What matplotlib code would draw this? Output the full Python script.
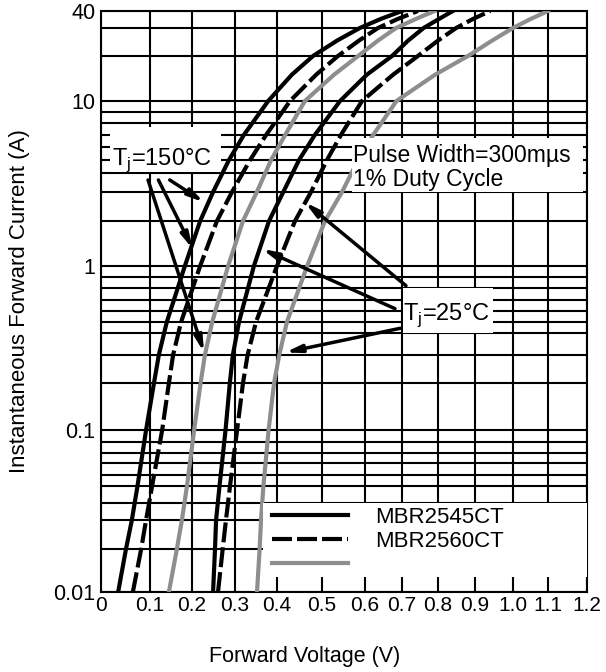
import numpy as np
import matplotlib
matplotlib.use("Agg")
import matplotlib.pyplot as plt
from matplotlib.patches import Rectangle
from matplotlib.ticker import FixedLocator, NullFormatter, NullLocator

plt.rcParams['font.family'] = ['Liberation Sans', 'DejaVu Sans']

# forward current (A) at which the voltage was read
current = [0.01, 0.02, 0.03, 0.05, 0.1, 0.2, 0.3, 0.5, 1, 2, 3, 5, 7, 10,
           15, 20, 25, 30, 35, 40]

# forward voltage (V)
vf_2545_150 = [0.035, 0.051, 0.063, 0.0745, 0.092, 0.1095, 0.121, 0.140, 0.183, 0.219,
               0.249, 0.286, 0.321, 0.379, 0.433, 0.48, 0.535, 0.588, 0.643, 0.70]
vf_2560_150 = [0.065, 0.082, 0.092, 0.105, 0.129, 0.145, 0.155, 0.174, 0.219, 0.258,
               0.293, 0.336, 0.374, 0.429, 0.487, 0.537, 0.586, 0.635, 0.689, 0.744]
vf_grey_150 = [0.145, 0.164, 0.176, 0.188, 0.205, 0.22, 0.23, 0.247, 0.284, 0.319,
               0.352, 0.386, 0.418, 0.462, 0.528, 0.584, 0.635, 0.684, 0.739, 0.79]
vf_2545_25 = [0.249, 0.2535, 0.256, 0.264, 0.278, 0.288, 0.295, 0.3095, 0.345, 0.381,
              0.414, 0.449, 0.484, 0.542, 0.605, 0.673, 0.717, 0.76, 0.803, 0.84]
vf_2560_25 = [0.2605, 0.2714, 0.279, 0.2884, 0.305, 0.319, 0.33, 0.35, 0.40, 0.44,
              0.4756, 0.5116, 0.544, 0.593, 0.676, 0.744, 0.80, 0.849, 0.895, 0.94]
vf_grey_25 = [0.3524, 0.3586, 0.362, 0.3676, 0.38, 0.393, 0.405, 0.422, 0.467, 0.507,
              0.5465, 0.584, 0.622, 0.685, 0.792, 0.881, 0.945, 1.0, 1.051, 1.1]

x_ticks = [0, 0.1, 0.2, 0.3, 0.4, 0.5, 0.6, 0.7, 0.8, 0.9, 1.0, 1.1, 1.2]
x_labels = ["0", "0.1", "0.2", "0.3", "0.4", "0.5", "0.6", "0.7", "0.8", "0.9", "1.0", "1.1", "1.2"]
y_ticks = [0.01, 0.1, 1, 10, 40]
y_labels = ["0.01", "0.1", "1", "10", "40"]
legend_labels = ["MBR2545CT", "MBR2560CT", ""]

# the scanned grid is not evenly spaced: pixel position of every grid line
x_pos = [0, 49, 91, 134, 176, 221, 264, 301, 337, 374, 412, 447, 486]
y_grid = [0.01, 0.02, 0.03, 0.04, 0.05, 0.06, 0.07, 0.08, 0.09,
          0.1, 0.2, 0.3, 0.4, 0.5, 0.6, 0.7, 0.8, 0.9,
          1, 2, 3, 4, 5, 6, 7, 8, 9, 10, 20, 30, 40]
y_pix = [592, 549, 520, 503, 486, 475, 463, 453, 442,
         430, 383, 355, 333, 322, 311, 300, 288, 277,
         266, 221, 192, 173, 160, 147, 135, 123, 112, 101, 56, 28, 11]
y_dec = np.log10(y_grid)
y_pos = 592 - np.array(y_pix, dtype=float)


def x_fwd(v):
    return np.interp(v, x_ticks, x_pos)


def x_inv(p):
    return np.interp(p, x_pos, x_ticks)


def y_fwd(v):
    v = np.maximum(np.asarray(v, dtype=float), 1e-6)
    return np.interp(np.log10(v), y_dec, y_pos)


def y_inv(p):
    return 10 ** np.interp(p, y_pos, y_dec)


fig = plt.figure(figsize=(6.06, 6.72), dpi=100)
ax = fig.add_axes([101 / 606, 80 / 672, 486 / 606, 581 / 672])
ax.set_xscale("function", functions=(x_fwd, x_inv))
ax.set_yscale("function", functions=(y_fwd, y_inv))
ax.set_xlim(0, 1.2)
ax.set_ylim(0.01, 40)

ax.set_xticks(x_ticks, x_labels, fontsize=15)
ax.xaxis.set_minor_locator(NullLocator())
ax.set_yticks(y_ticks, y_labels, fontsize=15.5)
ax.yaxis.set_minor_locator(FixedLocator([v for v in y_grid if v not in y_ticks]))
ax.yaxis.set_minor_formatter(NullFormatter())
ax.tick_params(which="both", length=0, pad=4)
ax.tick_params(axis="x", pad=3)

ax.grid(True, which="major", axis="x", color="black", lw=1.5)
ax.grid(True, which="both", axis="y", color="black", lw=1.5)
ax.set_axisbelow(True)
for sp in ax.spines.values():
    sp.set_linewidth(1.5)

grey = "#8e8e8e"
dash = (4.8, 1.2)
l1, = ax.plot(vf_2545_150, current, color="black", lw=3, zorder=3)
l2, = ax.plot(vf_2560_150, current, color="black", lw=3, dashes=dash, zorder=3)
l3, = ax.plot(vf_grey_150, current, color=grey, lw=3, zorder=3)
ax.plot(vf_2545_25, current, color="black", lw=3, zorder=3)
ax.plot(vf_2560_25, current, color="black", lw=3, dashes=dash, zorder=3)
ax.plot(vf_grey_25, current, color=grey, lw=3, zorder=3)

# white label boxes that hide the grid
for x0, y0, w, h in [(0.0185, 0.723, 0.228, 0.0775),
                     (0.516, 0.688, 0.475, 0.093),
                     (0.621, 0.446, 0.185, 0.0775),
                     (0.333, 0.0258, 0.667, 0.127)]:
    ax.add_patch(Rectangle((x0, y0), w, h, transform=ax.transAxes,
                           facecolor="white", edgecolor="none", zorder=4))

ax.text(0.022, 5.0, "T$_\\mathregular{j}$=150°C", fontsize=17, va="center", zorder=6)
ax.text(0.572, 4.4, "Pulse Width=300m\u00b5s\n1% Duty Cycle", fontsize=16.5,
        va="center", linespacing=1.05, zorder=6)
ax.text(0.703, 0.56, "T$_\\mathregular{j}$=25°C", fontsize=17, va="center", zorder=6)

arrow = dict(arrowstyle="-|>,head_length=0.9,head_width=0.22", color="black",
             lw=2.5, shrinkA=0, shrinkB=0)
for tail, tip in [((0.096, 3.6), (0.228, 0.31)),
                  ((0.12, 3.6), (0.202, 1.3)),
                  ((0.147, 3.6), (0.228, 2.6)),
                  ((0.711, 0.82), (0.462, 2.6)),
                  ((0.681, 0.62), (0.364, 1.3)),
                  ((0.695, 0.44), (0.418, 0.31))]:
    ax.annotate("", xy=tip, xytext=tail, arrowprops=arrow, zorder=5)

leg = ax.legend([l1, l2, l3], legend_labels, loc="upper left",
                bbox_to_anchor=(0.352, 0.146), frameon=False, fontsize=16,
                handlelength=3.4, handletextpad=1.25, labelspacing=0.12,
                borderpad=0, borderaxespad=0)
leg.set_zorder(6)

ax.set_xlabel("Forward Voltage (V)", fontsize=15.5)
ax.xaxis.set_label_coords(0.42, -0.093)
ax.set_ylabel("Instantaneous Forward Current (A)", fontsize=16)
ax.yaxis.set_label_coords(-0.146, 0.5)

fig.savefig("out.png", dpi=100)
